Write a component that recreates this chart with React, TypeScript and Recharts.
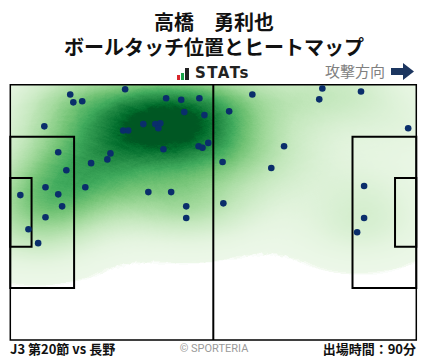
import React from 'react';
import { ComposedChart, Scatter, XAxis, YAxis, ReferenceArea, ReferenceLine } from 'recharts';

// Ball touch positions (metres, x = attack direction, y = from top touchline)
const touchX = [15.5, 16.3, 18.6, 29.7, 8.8, 40.3, 44.2, 48.9, 45.0, 50.2, 34.4, 37.5, 38.8, 38.3, 29.2, 30.5, 51.2, 48.7, 49.7, 39.6, 12.4, 25.9, 25.1, 20.9, 14.5, 9.1, 19.4, 12.4, 2.6, 13.4, 35.7, 41.6, 45.5, 9.1, 45.5, 4.7, 7.2, 62.6, 80.7, 79.9, 90.7, 56.6, 102.9, 70.8, 54.9, 67.5, 91.5, 55.1, 91.5, 89.7];
const touchY = [2.6, 4.7, 4.4, 1.2, 11.1, 3.6, 4.0, 3.6, 7.3, 8.1, 10.5, 10.5, 10.3, 11.6, 12.2, 12.2, 15.5, 16.4, 16.8, 17.2, 18.0, 18.3, 19.9, 20.9, 22.8, 27.3, 27.3, 29.2, 29.4, 32.4, 28.6, 28.6, 32.4, 35.3, 35.5, 38.5, 42.2, 2.6, 1.0, 3.9, 1.8, 7.1, 11.6, 16.4, 20.6, 22.2, 27.0, 31.6, 35.5, 39.3];

const FIELD_L = 105;
const FIELD_W = 68;
const PEN_D = 16.5;
const PEN_H = 40.32;
const GOAL_D = 5.5;
const GOAL_H = 18.32;

const touchData = touchX.map((x, i) => ({ x, y: touchY[i] }));

const W = 428;
const H = 359;
const M = { top: 84.7, left: 10.3, right: 11.7, bottom: 19 };
const PW = W - M.left - M.right;
const PH = H - M.top - M.bottom;
const PX = PW / FIELD_L;
const PY = PH / FIELD_W;

// kernel-density styling
const BW_X = 12;
const BW_Y = 6.8;
const KW = 0.16;
const S_MAX = 1.85;
const THRESH = 0.034;
const GAMMA = 1.25;

const GREENS = ['#f7fcf5', '#e5f5e0', '#c7e9c0', '#a1d99b', '#74c476', '#41ab5d', '#238b45', '#006d2c', '#00441b'];
const hexRgb = (h: string) => [1, 3, 5].map((k) => parseInt(h.slice(k, k + 2), 16) / 255);
const greens = (t: number) => {
  const p = Math.max(0, Math.min(1, t)) * (GREENS.length - 1);
  const i = Math.min(GREENS.length - 2, Math.floor(p));
  const f = p - i;
  const a = hexRgb(GREENS[i]);
  const b = hexRgb(GREENS[i + 1]);
  return a.map((v, k) => v + (b[k] - v) * f);
};
const TABLE = Array.from({ length: 96 }, (_, i) => {
  const A = Math.min(0.999, i / 95);
  const r = -Math.log(1 - A) / S_MAX;
  if (r < THRESH) return [1, 1, 1];
  return greens(0.06 + 0.88 * Math.pow(Math.min(1, r), GAMMA));
});
const chan = (k: number) => TABLE.map((c) => c[k].toFixed(3)).join(' ');

const GAUSS = Array.from({ length: 11 }, (_, i) => ({ o: i / 10, v: i === 10 ? 0 : Math.exp(-4.5 * (i / 10) * (i / 10)) }));

const HeatBlob = (p: any) => (
  <ellipse cx={p.cx} cy={p.cy} rx={3 * BW_X * PX} ry={3 * BW_Y * PY} fill="url(#blobGrad)" fillOpacity={KW} />
);

const Dot = (p: any) => <circle cx={p.cx} cy={p.cy} r={3.3} fill="#0a2e6b" />;

const FONT = '"Noto Sans CJK JP", "Noto Sans", sans-serif';

export default function App() {
  return (
    <div style={{ position: 'absolute', left: 0, top: 0, width: W, height: H, background: '#fff', fontFamily: FONT }}>
      <style>{`.heat-layer { filter: url(#heatFilter); clip-path: url(#fieldClip); }`}</style>
      <svg width={0} height={0} style={{ position: 'absolute' }}>
        <defs>
          <radialGradient id="blobGrad">
            {GAUSS.map((s) => (
              <stop key={s.o} offset={s.o} stopColor="#000" stopOpacity={s.v} />
            ))}
          </radialGradient>
          <filter id="heatFilter" filterUnits="userSpaceOnUse" x={0} y={0} width={W} height={H} colorInterpolationFilters="sRGB">
            <feColorMatrix type="matrix" values="0 0 0 1 0  0 0 0 1 0  0 0 0 1 0  0 0 0 0 1" />
            <feComponentTransfer>
              <feFuncR type="table" tableValues={chan(0)} />
              <feFuncG type="table" tableValues={chan(1)} />
              <feFuncB type="table" tableValues={chan(2)} />
            </feComponentTransfer>
          </filter>
          <clipPath id="fieldClip" clipPathUnits="userSpaceOnUse">
            <rect x={M.left} y={M.top} width={PW} height={PH} />
          </clipPath>
        </defs>
      </svg>

      <div style={{ position: 'absolute', left: 0, width: W, top: 8.5, textAlign: 'center', fontWeight: 700, fontSize: 20, lineHeight: '25px', color: '#111', whiteSpace: 'pre-line' }}>
        {'高橋　勇利也\nボールタッチ位置とヒートマップ'}
      </div>

      <div style={{ position: 'absolute', left: 177, top: 65, height: 16, display: 'flex', alignItems: 'flex-end' }}>
        <div style={{ width: 3, height: 5, background: '#d9262c', marginRight: 1, marginBottom: 1 }} />
        <div style={{ width: 3, height: 7, background: '#1aa34a', marginRight: 1, marginBottom: 1 }} />
        <div style={{ width: 4, height: 12, background: '#222', marginBottom: 1 }} />
        <div style={{ marginLeft: 6, fontFamily: '"DejaVu Sans", sans-serif', fontWeight: 700, fontSize: 15, lineHeight: '16px', color: '#222', letterSpacing: 1.5 }}>STATs</div>
      </div>

      <div style={{ position: 'absolute', left: 325, top: 61, fontSize: 15, lineHeight: '20px', color: '#808080' }}>攻撃方向</div>
      <svg style={{ position: 'absolute', left: 390, top: 62 }} width={26} height={20}>
        <polygon points="1,6 13,6 13,1 24,9.5 13,18 13,13 1,13" fill="#1c3660" />
      </svg>

      <div style={{ position: 'absolute', left: 0, top: 0 }}>
        <ComposedChart width={W} height={H} margin={M}>
          <XAxis type="number" dataKey="x" domain={[0, FIELD_L]} hide />
          <YAxis type="number" dataKey="y" domain={[0, FIELD_W]} reversed hide />
          <Scatter data={touchData} className="heat-layer" shape={HeatBlob} isAnimationActive={false} zIndex={50} />
          <ReferenceArea x1={0} x2={FIELD_L} y1={0} y2={FIELD_W} fill="none" stroke="#000" strokeWidth={1.5} zIndex={800} />
          <ReferenceArea x1={0} x2={PEN_D} y1={(FIELD_W - PEN_H) / 2} y2={(FIELD_W + PEN_H) / 2} fill="none" stroke="#000" strokeWidth={2} zIndex={800} />
          <ReferenceArea x1={0} x2={GOAL_D} y1={(FIELD_W - GOAL_H) / 2} y2={(FIELD_W + GOAL_H) / 2} fill="none" stroke="#000" strokeWidth={2} zIndex={800} />
          <ReferenceArea x1={FIELD_L - PEN_D} x2={FIELD_L} y1={(FIELD_W - PEN_H) / 2} y2={(FIELD_W + PEN_H) / 2} fill="none" stroke="#000" strokeWidth={2} zIndex={800} />
          <ReferenceArea x1={FIELD_L - GOAL_D} x2={FIELD_L} y1={(FIELD_W - GOAL_H) / 2} y2={(FIELD_W + GOAL_H) / 2} fill="none" stroke="#000" strokeWidth={2} zIndex={800} />
          <ReferenceLine x={FIELD_L / 2} stroke="#000" strokeWidth={2} zIndex={800} />
          <Scatter data={touchData} shape={Dot} isAnimationActive={false} zIndex={900} />
        </ComposedChart>
      </div>

      <div style={{ position: 'absolute', left: 10, top: 340, fontSize: 13, fontWeight: 700, lineHeight: '18px', color: '#111' }}>J3 第20節 vs 長野</div>
      <div style={{ position: 'absolute', left: 0, width: W, textAlign: 'center', top: 341, fontSize: 11, lineHeight: '16px', color: '#9a9a9a', fontFamily: 'Roboto, sans-serif' }}>© SPORTERIA</div>
      <div style={{ position: 'absolute', right: 12, top: 340, fontSize: 13, fontWeight: 700, lineHeight: '18px', color: '#111' }}>出場時間：90分</div>
    </div>
  );
}
